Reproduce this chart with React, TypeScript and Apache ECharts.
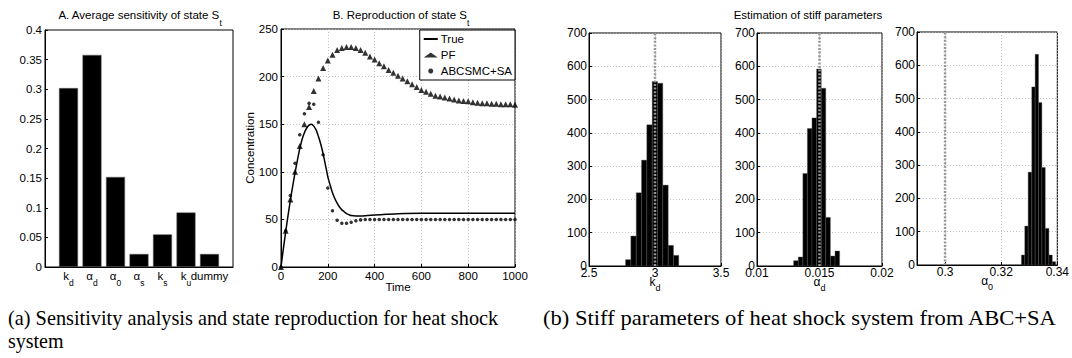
import React, { useEffect, useRef } from 'react';
import * as echarts from 'echarts';

const FONT = '"Liberation Sans", Arial, Helvetica, sans-serif';
const SERIF = '"Liberation Serif", "Times New Roman", serif';

// Panel A: average sensitivity
const sensLabels = ['k|d', 'α|d', 'α|0', 'α|s', 'k|s', 'k|u', 'dummy'];
const sensValues = [0.302, 0.358, 0.152, 0.022, 0.055, 0.092, 0.022];

// Panel B: reproduction of state S_t
const trueCurve: [number, number][] = [
  [0, 0], [10, 19], [20, 37], [30, 54], [40, 70], [50, 85], [60, 99], [70, 112], [80, 124], [90, 134],
  [100, 141], [110, 146], [120, 149], [130, 150], [140, 148], [150, 144], [160, 137], [170, 129], [180, 119],
  [190, 107], [200, 95], [210, 86], [220, 78], [230, 72], [240, 67], [250, 63], [260, 60], [270, 58], [280, 56],
  [290, 55], [300, 54], [320, 53.5], [340, 53.5], [370, 54], [400, 54.5], [450, 55.3], [500, 56], [600, 56.5],
  [700, 56.5], [800, 56.5], [900, 56.5], [1000, 56.5],
];
const pfPoints: [number, number][] = [
  [0, 0], [20, 38], [40, 71], [60, 100], [80, 127], [100, 150], [120, 168], [140, 185], [160, 198], [180, 209],
  [200, 217], [220, 223], [240, 228], [260, 230], [280, 231], [300, 231], [320, 230], [340, 228], [360, 225],
  [380, 221], [400, 218], [420, 214], [440, 211], [460, 207], [480, 204], [500, 201], [520, 198], [540, 195],
  [560, 192], [580, 189], [600, 186], [620, 184], [640, 182], [660, 180], [680, 179], [700, 178], [720, 177],
  [740, 176], [760, 175], [780, 174.5], [800, 174], [820, 173], [840, 172.5], [860, 172], [880, 172],
  [900, 171.5], [920, 171.5], [940, 171], [960, 171], [980, 171], [1000, 170.5],
];
const abcPoints: [number, number][] = [
  [0, 0], [20, 38], [40, 75], [60, 109], [80, 139], [100, 161], [120, 172], [140, 171], [160, 152], [180, 118],
  [200, 83], [220, 59], [240, 49], [260, 46], [280, 46], [300, 47], [320, 48.5], [340, 49.5], [360, 50], [380, 50],
  [400, 50], [420, 50], [440, 50], [460, 50], [480, 50], [500, 50], [520, 50], [540, 50], [560, 50], [580, 50],
  [600, 50], [620, 50], [640, 50], [660, 50], [680, 50], [700, 50], [720, 50], [740, 50], [760, 50], [780, 50],
  [800, 50], [820, 50], [840, 50], [860, 50], [880, 50], [900, 50], [920, 50], [940, 50], [960, 50], [980, 50],
  [1000, 50],
];

// Panel C: histograms of stiff parameters (bin edges + counts)
const kdEdges = [2.777, 2.817, 2.858, 2.898, 2.938, 2.979, 3.019, 3.059, 3.1, 3.14, 3.18];
const kdCounts = [19, 90, 220, 318, 424, 554, 549, 243, 62, 32];
const adEdges = [0.01293, 0.0133, 0.01367, 0.01403, 0.0144, 0.01477, 0.01514, 0.0155, 0.01587, 0.01624, 0.01661];
const adCounts = [16, 27, 278, 413, 445, 592, 534, 146, 30, 45];
const a0Edges = [0.3272, 0.3284, 0.3296, 0.3309, 0.3321, 0.3333, 0.3345, 0.3357, 0.337, 0.3382, 0.3394];
const a0Counts = [30, 117, 279, 535, 633, 488, 293, 110, 30, 10];
const trueParams = [3, 0.015, 0.3];
const a0Ticks = [0.3, 0.32, 0.34];

const mkRich = (fs: number, sfs: number, mainLH: number, subLH: number) => ({
  m: { fontSize: fs, fontFamily: FONT, color: '#000', lineHeight: mainLH, verticalAlign: 'top' },
  s: { fontSize: sfs, fontFamily: FONT, color: '#000', lineHeight: subLH, verticalAlign: 'bottom' },
});
const subRich = mkRich(11.5, 8.5, 13, 17.5);
const subLabel = (s: string) => {
  const [a, b] = s.split('|');
  return b === undefined ? `{m|${a}}` : `{m|${a}}{s|${b}}`;
};

const gridLine = { show: true, lineStyle: { color: '#b4b4b4', type: [1, 2], width: 0.8 } };
const axisBase = (fs: number) => ({
  axisLine: { show: true, onZero: false, lineStyle: { color: '#000', width: 1 } },
  axisTick: { show: true, inside: true, length: 3, lineStyle: { color: '#000' } },
  axisLabel: { color: '#000', fontFamily: FONT, fontSize: fs, margin: 3, formatter: (v: number) => String(v) },
  splitLine: { show: false },
});

const histSeries = (idx: number, edges: number[], counts: number[]) => ({
  type: 'custom',
  xAxisIndex: idx,
  yAxisIndex: idx,
  data: counts.map((c, i) => [edges[i], edges[i + 1], c]),
  encode: { x: [0, 1], y: 2 },
  z: 2,
  renderItem: (_p: any, api: any) => {
    const p0 = api.coord([api.value(0), api.value(2)]);
    const p1 = api.coord([api.value(1), 0]);
    return {
      type: 'rect',
      shape: { x: p0[0], y: p0[1], width: p1[0] - p0[0], height: p1[1] - p0[1] },
      style: { fill: '#000', stroke: '#555', lineWidth: 0.4 },
    };
  },
});

const trueLine = (idx: number, v: number) => ({
  type: 'line',
  xAxisIndex: idx,
  yAxisIndex: idx,
  data: [[v, 0], [v, 700]],
  symbol: 'none',
  z: 5,
  lineStyle: { color: '#969696', width: 2.5, type: [2, 1.6] },
});

const histX = (idx: number, min: number, max: number, interval: number | null, name: string) => {
  const b: any = axisBase(12);
  const ax: any = {
    type: 'value', gridIndex: idx, min, max,
    ...b,
    axisLabel: { ...b.axisLabel, margin: 1, lineHeight: 11 },
    splitLine: gridLine,
    name: subLabel(name),
    nameLocation: 'middle',
    nameGap: 9.5,
    nameMoveOverlap: false,
    nameTextStyle: { rich: mkRich(12, 9, 10, 17) },
  };
  if (interval !== null) ax.interval = interval;
  return ax;
};
const histY = (idx: number) => ({
  type: 'value', gridIndex: idx, min: 0, max: 700, interval: 100,
  ...axisBase(12),
  axisLabel: { color: '#000', fontFamily: FONT, fontSize: 12, margin: 2 },
  splitLine: gridLine,
});

const gridBox = { show: true, borderColor: '#000', borderWidth: 1, containLabel: false };

const option: any = {
  animation: false,
  backgroundColor: '#fff',
  textStyle: { fontFamily: FONT },
  grid: [
    { left: 45, top: 30, width: 188, height: 237, ...gridBox },
    { left: 281, top: 29, width: 234, height: 238, ...gridBox },
    { left: 589, top: 33, width: 132, height: 233, ...gridBox },
    { left: 757, top: 33, width: 125, height: 233, ...gridBox },
    { left: 917, top: 32, width: 142, height: 233, ...gridBox },
  ],
  xAxis: [
    {
      type: 'value', gridIndex: 0, min: 0, max: 8, interval: 1,
      ...axisBase(11.5),
      axisTick: { show: false },
      axisLabel: {
        margin: 3,
        formatter: (v: number) => (v >= 1 && v <= 7 ? subLabel(sensLabels[v - 1]) : ''),
        rich: subRich,
      },
    },
    {
      type: 'value', gridIndex: 1, min: 0, max: 1000, interval: 200,
      ...axisBase(11.5),
      splitLine: gridLine,
      name: 'Time', nameLocation: 'middle', nameGap: 13.5, nameMoveOverlap: false,
      nameTextStyle: { color: '#000', fontFamily: FONT, fontSize: 11.5 },
    },
    histX(2, 2.5, 3.5, 0.5, 'k|d'),
    histX(3, 0.01, 0.02, 0.005, 'α|d'),
    (() => {
      const ax = histX(4, 0.29, 0.34, null, 'α|0');
      ax.axisTick = { ...ax.axisTick, customValues: a0Ticks };
      ax.axisLabel = { ...ax.axisLabel, customValues: a0Ticks };
      return ax;
    })(),
  ],
  yAxis: [
    { type: 'value', gridIndex: 0, min: 0, max: 0.4, interval: 0.05, ...axisBase(11.5) },
    {
      type: 'value', gridIndex: 1, min: 0, max: 250, interval: 50,
      ...axisBase(11.5),
      splitLine: gridLine,
      name: 'Concentration', nameLocation: 'middle', nameGap: 25, nameRotate: 90, nameMoveOverlap: false,
      nameTextStyle: { color: '#000', fontFamily: FONT, fontSize: 11.5 },
    },
    histY(2), histY(3), histY(4),
  ],
  legend: {
    data: [
      { name: 'True', itemStyle: { opacity: 0 } },
      { name: 'PF', icon: 'triangle' },
      { name: 'ABCSMC+SA', icon: 'circle' },
    ],
    orient: 'vertical',
    right: 1072 - 515,
    top: 30,
    itemWidth: 14,
    itemHeight: 5,
    itemGap: 4,
    padding: [3, 3, 3, 3],
    borderColor: '#000',
    borderWidth: 1,
    backgroundColor: '#fff',
    textStyle: { color: '#000', fontFamily: FONT, fontSize: 11.5, padding: [0, 0, 0, -2] },
    z: 10,
  },
  series: [
    {
      type: 'bar', xAxisIndex: 0, yAxisIndex: 0,
      data: sensValues.map((v, i) => [i + 1, v]),
      barWidth: 19,
      itemStyle: { color: '#000', borderColor: '#666', borderWidth: 0.5 },
    },
    {
      name: 'True', type: 'line', xAxisIndex: 1, yAxisIndex: 1,
      data: trueCurve, symbol: 'none', smooth: 0.3,
      lineStyle: { color: '#000', width: 1.5 },
      itemStyle: { color: '#000' },
    },
    {
      name: 'PF', type: 'scatter', xAxisIndex: 1, yAxisIndex: 1,
      data: pfPoints, symbol: 'triangle', symbolSize: [6, 6],
      itemStyle: { color: '#000' },
    },
    {
      name: 'ABCSMC+SA', type: 'scatter', xAxisIndex: 1, yAxisIndex: 1,
      data: abcPoints, symbol: 'circle', symbolSize: 3.5,
      itemStyle: { color: '#000' },
    },
    histSeries(2, kdEdges, kdCounts),
    histSeries(3, adEdges, adCounts),
    histSeries(4, a0Edges, a0Counts),
    trueLine(2, trueParams[0]),
    trueLine(3, trueParams[1]),
    trueLine(4, trueParams[2]),
  ],
  graphic: [
    {
      type: 'text', x: 140, y: 9,
      style: {
        text: '{m|A. Average sensitivity of state S}{s|t}', align: 'center', verticalAlign: 'top',
        rich: mkRich(11.5, 8.5, 13, 18),
      },
    },
    {
      type: 'text', x: 401, y: 9,
      style: {
        text: '{m|B. Reproduction of state S}{s|t}', align: 'center', verticalAlign: 'top',
        rich: mkRich(11.5, 8.5, 13, 18),
      },
    },
    {
      type: 'text', x: 808, y: 9,
      style: {
        text: 'Estimation of stiff parameters', align: 'center', verticalAlign: 'top',
        font: `11.5px ${FONT}`, fill: '#000',
      },
    },
    {
      type: 'text', x: 8, y: 308, scaleX: 1.015,
      style: { text: '(a) Sensitivity analysis and state reproduction for heat shock', font: `20px ${SERIF}`, fill: '#000' },
    },
    {
      type: 'text', x: 8, y: 331,
      style: { text: 'system', font: `20px ${SERIF}`, fill: '#000' },
    },
    {
      type: 'text', x: 543, y: 308, scaleX: 1.13,
      style: { text: '(b) Stiff parameters of heat shock system from ABC+SA', font: `20px ${SERIF}`, fill: '#000' },
    },
  ],
};

export default function App() {
  const ref = useRef<HTMLDivElement>(null);
  useEffect(() => {
    document.body.style.margin = '0';
    const chart = echarts.init(ref.current!, null, { renderer: 'svg' });
    chart.setOption(option);
    return () => chart.dispose();
  }, []);
  return (
    <div
      ref={ref}
      style={{ position: 'absolute', left: 0, top: 0, width: 1072, height: 358, background: '#fff' }}
    />
  );
}
